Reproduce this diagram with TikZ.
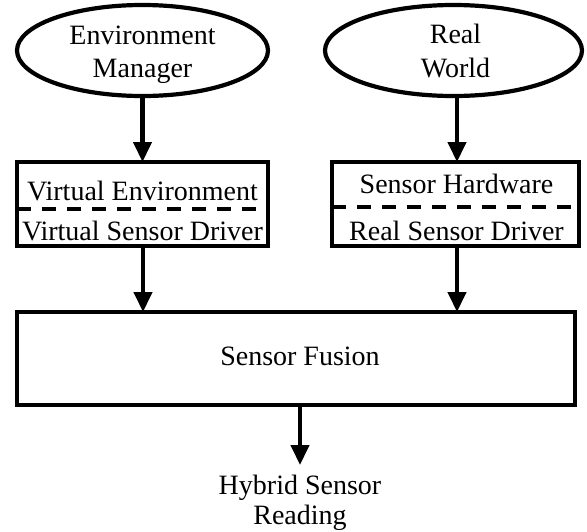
\documentclass[tikz,border=0pt]{standalone}
\usepackage{fontspec}
\setmainfont{Liberation Serif}
\usetikzlibrary{shapes.geometric,arrows.meta}
\begin{document}
\begin{tikzpicture}[x=1pt,y=-1pt,
  every node/.style={font=\fontsize{28}{32}\selectfont, inner sep=0pt, outer sep=0pt},
  oval/.style={draw, ellipse, line width=4.2pt},
  box/.style={draw, rectangle, line width=4.2pt},
  txt/.style={anchor=base},
  sep/.style={line width=4.2pt, dash pattern=on 14pt off 11pt},
  arr/.style={line width=4.2pt, -{Triangle[length=20pt,width=18pt]}}]
\useasboundingbox (0,0) rectangle (587,531);
% ellipses
\node[oval, minimum width=251pt, minimum height=91pt] (em) at (142.5,50.5) {};
\node[oval, minimum width=257pt, minimum height=91pt] (rw) at (453.5,50.5) {};
\node[txt] (em1) at (142.5,44.5) {Environment};
\node[txt] (em2) at (142.5,77) {Manager};
\node[txt] (rw1) at (455.5,43.5) {Real};
\node[txt] (rw2) at (455.5,77) {World};
% boxes
\node[box, minimum width=251pt, minimum height=84pt] (vb) at (142.5,204) {};
\node[box, minimum width=247pt, minimum height=84pt] (rb) at (455.5,204) {};
\node[txt] (vb1) at (142.5,200) {Virtual Environment};
\node[txt] (vb2) at (142.5,240) {Virtual Sensor Driver};
\node[txt] (rb1) at (456.5,193) {Sensor Hardware};
\node[txt] (rb2) at (456.5,240) {Real Sensor Driver};
\draw[sep] (vb.west |- 0,209) -- (vb.east |- 0,209);
\draw[sep] (rb.west |- 0,207) -- (rb.east |- 0,207);
% fusion
\node[box, minimum width=558pt, minimum height=93pt] (fu) at (296,358.5) {};
\node[txt] (fut) at (300,365) {Sensor Fusion};
\node[txt] (out1) at (300,494) {Hybrid Sensor};
\node[txt] (out2) at (300,524) {Reading};
\coordinate (tip) at (300,465);
% connectors
\draw[arr] (em.south) -- (em.south |- vb.north);
\draw[arr] (rw.south -| 457,0) -- (457,0 |- rb.north);
\draw[arr] (vb.south -| 143,0) -- (143,0 |- fu.north);
\draw[arr] (rb.south -| 457,0) -- (457,0 |- fu.north);
\draw[arr] (fu.south -| tip) -- (tip);
\end{tikzpicture}
\end{document}
